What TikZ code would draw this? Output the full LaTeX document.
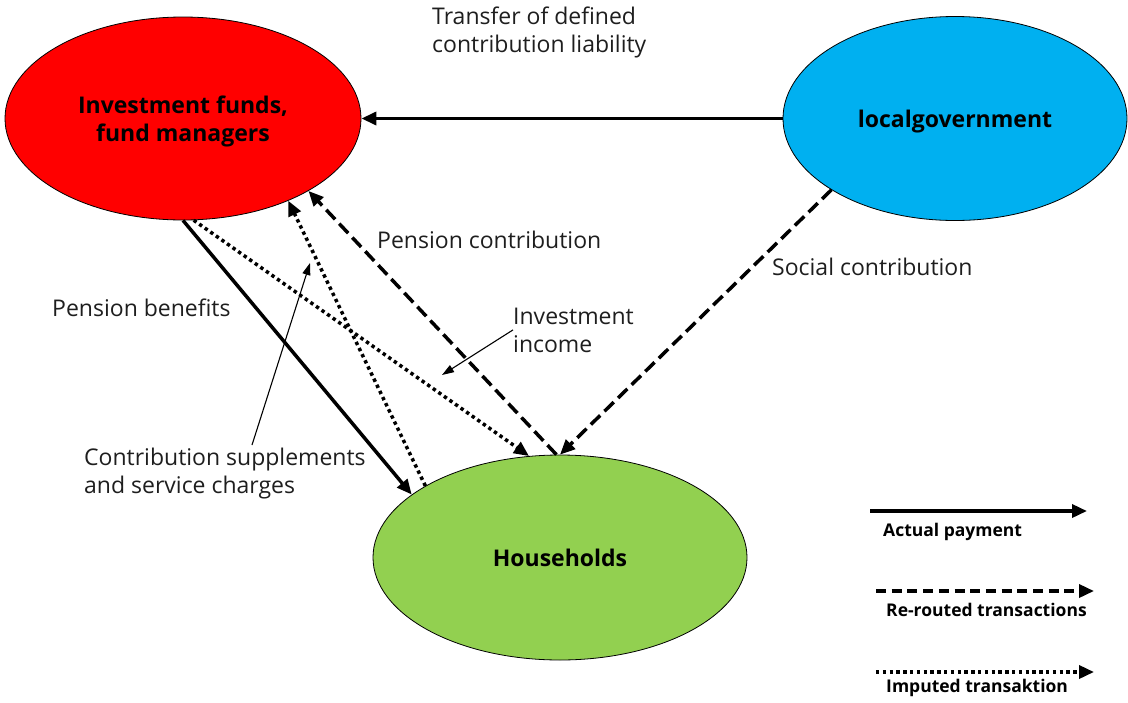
\documentclass[tikz,border=0pt]{standalone}
\usepackage{fontspec}
\setmainfont{Open Sans}
\usetikzlibrary{arrows.meta,shapes.geometric}
\definecolor{fundred}{HTML}{FF0000}
\definecolor{govblue}{HTML}{00B0F0}
\definecolor{hhgreen}{HTML}{92D050}
\definecolor{labelgray}{HTML}{1E1E1E}
\begin{document}
\begin{tikzpicture}[x=1pt,y=-1pt,
  ell/.style={ellipse, draw=black, line width=0.8pt, inner sep=0pt, text depth=0pt,
    font=\fontsize{23}{28}\selectfont\bfseries, align=center, text=black},
  lbl/.style={font=\fontsize{23}{28}\selectfont, inner sep=0pt, align=left, text=labelgray},
  leg/.style={font=\fontsize{17.5}{20}\selectfont\bfseries, inner sep=0pt, text=black},
  pay/.style={line width=3.5pt, -{Triangle[length=15pt,width=13pt]}},
  reroute/.style={pay, dash pattern=on 13pt off 6pt},
  reroutelegend/.style={pay, dash pattern=on 10pt off 5.7pt},
  imput/.style={pay, dash pattern=on 3.4pt off 3.4pt},
  note/.style={line width=1.1pt, -{Triangle[length=12pt,width=8pt]}}
]
\useasboundingbox (0,0) rectangle (1128,702);

% ellipses
\node[ell, fill=fundred, minimum width=356pt, minimum height=203pt] (funds) at (183,118.5) {Investment funds,\\fund managers};
\node[ell, fill=govblue, minimum width=344pt, minimum height=204pt] (gov) at (955,118.5) {localgovernment};
\node[ell, fill=hhgreen, minimum width=374pt, minimum height=205pt] (hh) at (560,557.5) {Households};

% connectors
\draw[pay] (gov.west) -- (funds.east);
\draw[pay] (funds.-90) -- (hh.157.5);
\draw[imput] (funds.-84) -- (hh.107);
\draw[imput] (hh.152.6) -- (funds.-38);
\draw[reroute] (hh.92) -- (funds.-30);
\draw[reroute] (gov.210) -- (hh.90.5);

% labels (multi-line nodes: base = last line)
\node[lbl, anchor=base west] (transfer) at (432,52) {Transfer of defined\\contribution liability};
\node[lbl, anchor=base west] (pcontr) at (377,248) {Pension contribution};
\node[lbl, anchor=base west] (scontr) at (772,275) {Social contribution};
\node[lbl, anchor=base west] (pben) at (52,316) {Pension benefits};
\node[lbl, anchor=base west] (inc) at (513,352) {Investment\\income};
\node[lbl, anchor=base west] (csupp) at (84,493) {Contribution supplements\\and service charges};

% annotation arrows
\coordinate (inctip) at (442,375);
\draw[note] (inc.west) -- (inctip);
\coordinate (cstail) at (252,445);
\coordinate (cstip) at (310,263);
\draw[note] (cstail) -- (cstip);

% legend
\coordinate (l1a) at (870,511); \coordinate (l1b) at (1087,511);
\draw[pay] (l1a) -- (l1b);
\node[leg, anchor=base west] (l1t) at (883,536) {Actual payment};
\coordinate (l2a) at (876,591); \coordinate (l2b) at (1094,591);
\draw[reroutelegend] (l2a) -- (l2b);
\node[leg, anchor=base west] (l2t) at (886,616) {Re-routed transactions};
\coordinate (l3a) at (876,672); \coordinate (l3b) at (1094,672);
\draw[imput] (l3a) -- (l3b);
\node[leg, anchor=base west] (l3t) at (886,692) {Imputed transaktion};
\end{tikzpicture}
\end{document}
